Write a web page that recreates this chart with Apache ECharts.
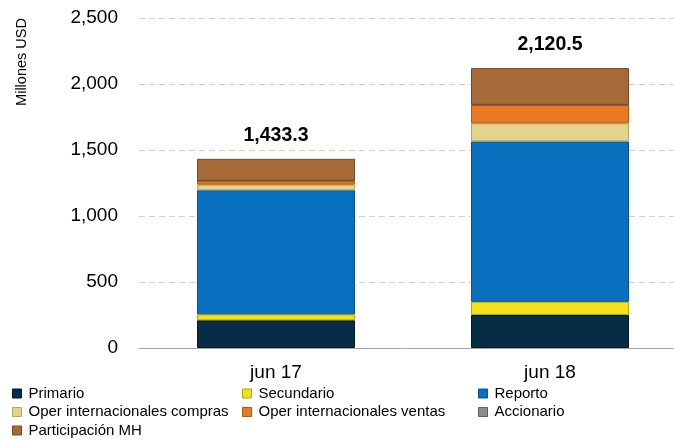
<!DOCTYPE html>
<html>
<head>
<meta charset="utf-8">
<script src="https://cdn.jsdelivr.net/npm/echarts@6/dist/echarts.min.js"></script>
<style>
  html, body { margin: 0; padding: 0; background: #fff; }
  #chart { width: 674px; height: 440px; }
</style>
</head>
<body>
<div id="chart"></div>
<script>
// categorias y series (millones USD)
const categories = ['jun 17', 'jun 18'];
const seriesNames = ['Primario', 'Secundario', 'Reporto', 'Oper internacionales compras',
  'Oper internacionales ventas', 'Accionario', 'Participación MH'];
const primario = [210, 250];
const secundario = [45, 100];
const reporto = [940, 1215];
const operCompras = [42, 137];
const operVentas = [30, 140];
const accionario = [0, 0];
const participacionMH = [166.3, 278.5];
const totals = [1433.3, 2120.5];
const yTicks = [0, 500, 1000, 1500, 2000, 2500];

const colors = ['#072c46', '#f1e21e', '#0870be', '#e4d38a', '#e8791f', '#8c8c8c', '#a66a38'];
const borders = ['#041a2a', '#b8a800', '#05538f', '#b5a55e', '#b05810', '#5e5e5e', '#774a25'];
const dataSets = [primario, secundario, reporto, operCompras, operVentas, accionario, participacionMH];

const font = '"Liberation Sans", Arial, sans-serif';
const fmt = v => v.toLocaleString('en-US', { minimumFractionDigits: 1, maximumFractionDigits: 1 });

const series = seriesNames.map((name, i) => ({
  name, type: 'bar', stack: 'total', barWidth: 158,
  data: dataSets[i],
  itemStyle: { color: colors[i], borderColor: borders[i], borderWidth: 1 },
  label: i === seriesNames.length - 1 ? {
    show: true, position: 'top', distance: 13,
    formatter: p => fmt(totals[p.dataIndex]),
    fontFamily: font, fontWeight: 'bold', fontSize: 19.5, color: '#000'
  } : { show: false }
}));

// legend: 3 columnas, 3 filas
const legendCols = [12, 242, 478];
const legendRows = [386, 404.5, 423];
const legendPos = [[0, 0], [1, 0], [2, 0], [0, 1], [1, 1], [2, 1], [0, 2]];
const legends = seriesNames.map((name, i) => ({
  left: legendCols[legendPos[i][0]], top: legendRows[legendPos[i][1]],
  padding: 0, itemWidth: 9, itemHeight: 9, selectedMode: false,
  data: [{ name, icon: 'rect', itemStyle: { borderColor: borders[i], borderWidth: 1 } }],
  textStyle: { fontFamily: font, fontSize: 15, color: '#000', padding: [0, 0, 0, 2] }
}));

const chart = echarts.init(document.getElementById('chart'));
chart.setOption({
  animation: false,
  color: colors,
  grid: { left: 139, top: 18, width: 548, height: 330, outerBoundsMode: 'none' },
  legend: legends,
  xAxis: {
    type: 'category', data: categories,
    axisLine: { lineStyle: { color: '#a6a6a6' } },
    axisTick: { show: false },
    axisLabel: { fontFamily: font, fontSize: 19, color: '#000', margin: 15 }
  },
  yAxis: {
    type: 'value', min: yTicks[0], max: yTicks[yTicks.length - 1], interval: 500,
    axisLine: { show: false }, axisTick: { show: false },
    axisLabel: {
      fontFamily: font, fontSize: 19, color: '#000', margin: 21,
      formatter: v => v.toLocaleString('en-US')
    },
    splitLine: { lineStyle: { color: '#d0d0d0', type: [6, 4] } }
  },
  graphic: [{
    type: 'text', x: 22, y: 62, rotation: Math.PI / 2,
    style: { text: 'Millones USD', fontFamily: font, fontSize: 14.5, fill: '#000', align: 'center', verticalAlign: 'middle' }
  }],
  series
});
</script>
</body>
</html>
